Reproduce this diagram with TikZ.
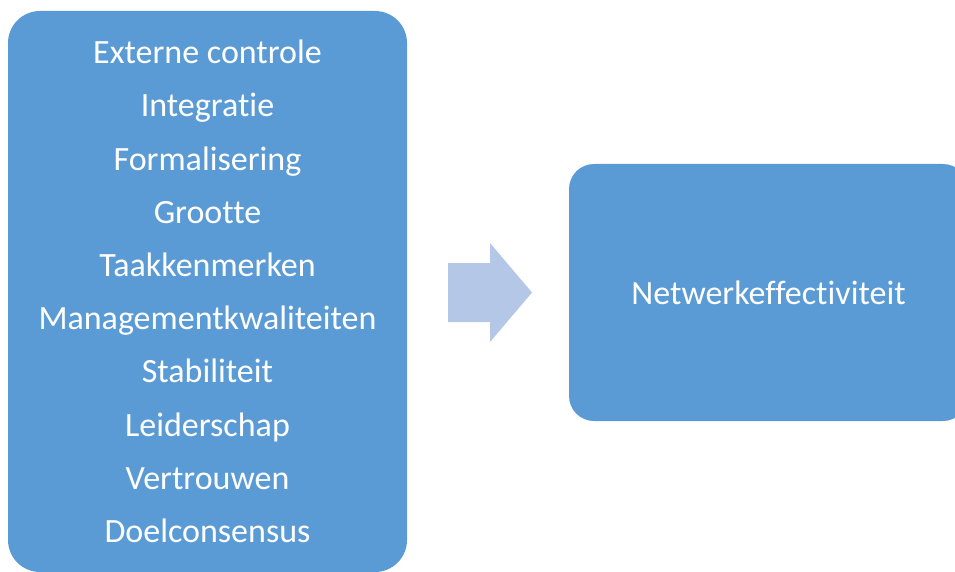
\documentclass[tikz,border=0pt]{standalone}
\usepackage{fontspec}
\setmainfont{Carlito}[Ligatures={NoCommon}]
\usepackage{tikz}
\usetikzlibrary{positioning}

\definecolor{boxblue}{HTML}{5B9BD5}
\definecolor{arrowblue}{HTML}{B4C7E7}

\begin{document}
\begin{tikzpicture}[x=1pt, y=-1pt, thick]

        % Page frame, the right box runs off the edge
        \useasboundingbox (0,0) rectangle (955,572);
        \clip (0,0) rectangle (955,572);

        % Define blue boxes with rounded corners
        \tikzset{bluebox/.style={fill=boxblue, text=white, rectangle, align=center, inner sep=0pt}}

        \node[bluebox, rounded corners=32pt, minimum width=399pt, minimum height=561pt,
              font=\fontsize{34}{53.2}\selectfont] (factors) at (207.5,291.5)
              {Externe controle\\Integratie\\Formalisering\\Grootte\\Taakkenmerken\\Managementkwaliteiten\\Stabiliteit\\Leiderschap\\Vertrouwen\\Doelconsensus};
        \node[bluebox, rounded corners=25pt, minimum width=399pt, minimum height=257pt,
              font=\fontsize{34}{40}\selectfont] (effect) at (768.5,292.5) {Netwerkeffectiviteit};

        % Block arrow between the boxes
        \fill[arrowblue] (448,263) -- (490,263) -- (490,243) -- (532,292.5) -- (490,342) -- (490,322) -- (448,322) -- cycle;
    \end{tikzpicture}
\end{document}
